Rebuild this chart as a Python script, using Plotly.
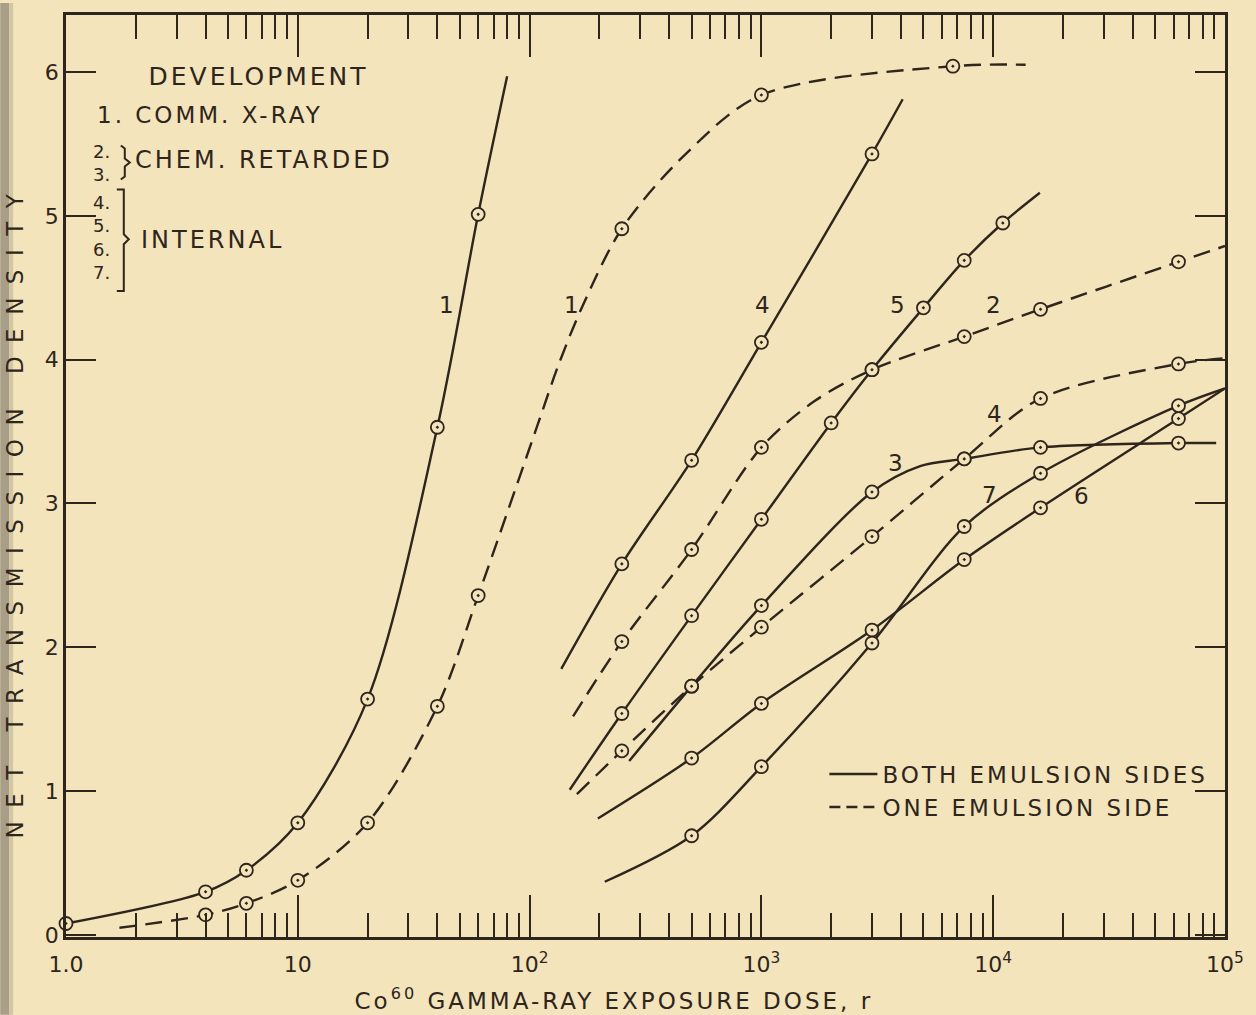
import numpy as np
import plotly.graph_objects as go

BG = "#F3E4BB"
INK = "#2E251C"
FONT = "DejaVu Sans"

# ---------------- data (dose in r, net transmission density) ----------------
# 1 - Comm. X-ray, both emulsion sides (solid)
C1S_LX = [1.0, 4, 6, 10, 20, 40, 60, 80]
C1S_LY = [0.08, 0.30, 0.45, 0.78, 1.64, 3.53, 5.01, 5.97]
C1S_PX = [1.0, 4, 6, 10, 20, 40, 60]
C1S_PY = [0.08, 0.30, 0.45, 0.78, 1.64, 3.53, 5.01]
# 1 - Comm. X-ray, one emulsion side (dashed)
C1D_LX = [1.7, 4, 6, 10, 20, 40, 60, 109, 133, 170, 250, 465, 1000, 6700, 13800]
C1D_LY = [0.05, 0.14, 0.22, 0.38, 0.78, 1.59, 2.36, 3.56, 3.96, 4.38, 4.91, 5.42, 5.84, 6.04, 6.05]
C1D_PX = [4, 6, 10, 20, 40, 60, 250, 1000, 6700]
C1D_PY = [0.14, 0.22, 0.38, 0.78, 1.59, 2.36, 4.91, 5.84, 6.04]
# 4 - Internal, both sides (solid)
C4S_LX = [137, 250, 500, 1000, 3000, 4070]
C4S_LY = [1.85, 2.58, 3.30, 4.12, 5.43, 5.81]
C4S_PX = [250, 500, 1000, 3000]
C4S_PY = [2.58, 3.30, 4.12, 5.43]
# 5 - Internal, both sides (solid)
C5S_LX = [149, 250, 500, 1000, 2000, 3000, 5000, 7500, 11000, 15900]
C5S_LY = [1.01, 1.54, 2.22, 2.89, 3.56, 3.93, 4.36, 4.69, 4.95, 5.16]
C5S_PX = [250, 500, 1000, 2000, 3000, 5000, 7500, 11000]
C5S_PY = [1.54, 2.22, 2.89, 3.56, 3.93, 4.36, 4.69, 4.95]
# 2 - Chem. retarded, one side (dashed)
C2D_LX = [154, 250, 500, 1000, 1690, 3000, 7500, 16000, 63000, 100000]
C2D_LY = [1.52, 2.04, 2.68, 3.39, 3.71, 3.93, 4.16, 4.35, 4.68, 4.79]
C2D_PX = [250, 500, 1000, 3000, 7500, 16000, 63000]
C2D_PY = [2.04, 2.68, 3.39, 3.93, 4.16, 4.35, 4.68]
# 3 - Chem. retarded, both sides (solid)
C3S_LX = [269, 500, 1000, 3000, 4840, 7500, 16000, 63000, 91600]
C3S_LY = [1.21, 1.73, 2.29, 3.08, 3.26, 3.31, 3.39, 3.42, 3.42]
C3S_PX = [500, 1000, 3000, 7500, 16000, 63000]
C3S_PY = [1.73, 2.29, 3.08, 3.31, 3.39, 3.42]
# 4 - Internal, one side (dashed)
C4D_LX = [160, 250, 500, 1000, 3000, 7500, 16000, 63000, 100000]
C4D_LY = [0.98, 1.28, 1.73, 2.14, 2.77, 3.31, 3.73, 3.97, 4.01]
C4D_PX = [250, 500, 1000, 3000, 7500, 16000, 63000]
C4D_PY = [1.28, 1.73, 2.14, 2.77, 3.31, 3.73, 3.97]
# 6 - Internal, both sides (solid)
C6S_LX = [197, 500, 1000, 3000, 7500, 16000, 63000, 100000]
C6S_LY = [0.81, 1.23, 1.61, 2.12, 2.61, 2.97, 3.59, 3.80]
C6S_PX = [500, 1000, 3000, 7500, 16000, 63000]
C6S_PY = [1.23, 1.61, 2.12, 2.61, 2.97, 3.59]
# 7 - Internal, both sides (solid)
C7S_LX = [211, 500, 1000, 3000, 7500, 16000, 63000, 100000]
C7S_LY = [0.37, 0.69, 1.17, 2.03, 2.84, 3.21, 3.68, 3.80]
C7S_PX = [500, 1000, 3000, 7500, 16000, 63000]
C7S_PY = [0.69, 1.17, 2.03, 2.84, 3.21, 3.68]

# curve labels
LABEL_TEXT = ["1", "1", "4", "5", "2", "4", "3", "7", "6"]
LABEL_DOSE = [44, 152, 1010, 3850, 10050, 10140, 3770, 9660, 24000]
LABEL_DENS = [4.38, 4.38, 4.38, 4.38, 4.38, 3.62, 3.28, 3.06, 3.05]

# axis ticks
X_TICKVALS = [1, 10, 100, 1000, 10000, 100000]
X_TICKTEXT = ["1.0", "10", "10<sup>2</sup>", "10<sup>3</sup>", "10<sup>4</sup>", "10<sup>5</sup>"]
Y_TICKVALS = [0, 1, 2, 3, 4, 5, 6]
Y_TICKTEXT = ["0", "1", "2", "3", "4", "5", "6"]

LEGEND_NAMES = ["BOTH EMULSION SIDES", "ONE EMULSION SIDE"]

curves = [
    (C1S_LX, C1S_LY, C1S_PX, C1S_PY, False),
    (C1D_LX, C1D_LY, C1D_PX, C1D_PY, True),
    (C4S_LX, C4S_LY, C4S_PX, C4S_PY, False),
    (C5S_LX, C5S_LY, C5S_PX, C5S_PY, False),
    (C2D_LX, C2D_LY, C2D_PX, C2D_PY, True),
    (C3S_LX, C3S_LY, C3S_PX, C3S_PY, False),
    (C4D_LX, C4D_LY, C4D_PX, C4D_PY, True),
    (C6S_LX, C6S_LY, C6S_PX, C6S_PY, False),
    (C7S_LX, C7S_LY, C7S_PX, C7S_PY, False),
]

fig = go.Figure()

for lx, ly, px, py, dashed in curves:
    fig.add_trace(go.Scatter(
        x=lx, y=ly, mode="lines", showlegend=False, hoverinfo="skip",
        line=dict(color=INK, width=2.4, shape="spline", smoothing=0.9,
                  dash="17px,9px" if dashed else "solid")))

for lx, ly, px, py, dashed in curves:
    fig.add_trace(go.Scatter(
        x=px, y=py, mode="markers", showlegend=False, cliponaxis=False,
        marker=dict(symbol="circle-dot", size=13, color=BG,
                    line=dict(color=INK, width=1.8))))

# legend entries
fig.add_trace(go.Scatter(x=[None], y=[None], mode="lines", name=LEGEND_NAMES[0],
                         line=dict(color=INK, width=2.4)))
fig.add_trace(go.Scatter(x=[None], y=[None], mode="lines", name=LEGEND_NAMES[1],
                         line=dict(color=INK, width=2.4, dash="11px,6px")))

# ---------------- layout ----------------
L, R, T, B = 66, 27, 12, 78
W, H = 1256, 1015
PW, PH = W - L - R, H - T - B


def paper(px, py):
    return (px - L) / PW, (T + PH - py) / PH


minor_vals = [m * 10 ** d for d in range(5) for m in range(2, 10)]

fig.update_layout(
    width=W, height=H,
    margin=dict(l=L, r=R, t=T, b=B),
    paper_bgcolor=BG, plot_bgcolor=BG,
    font=dict(family=FONT, color=INK, size=22),
    legend=dict(x=paper(827, 0)[0], y=paper(0, 752)[1], xanchor="left", yanchor="top",
                bgcolor="rgba(0,0,0,0)", font=dict(size=23, family=FONT, color=INK),
                itemwidth=48, tracegroupgap=0),
    xaxis=dict(type="log", range=[0, 5], tickvals=X_TICKVALS, ticktext=X_TICKTEXT,
               ticks="inside", ticklen=42, tickwidth=2, tickcolor=INK,
               showline=True, linewidth=2.5, linecolor=INK, mirror="ticks",
               showgrid=False, zeroline=False, tickfont=dict(size=22),
               ticklabelstandoff=6,
               minor=dict(tickvals=minor_vals, ticks="inside", ticklen=24,
                          tickwidth=2, tickcolor=INK, showgrid=False)),
    yaxis=dict(range=[-0.014, 6.396], tickvals=Y_TICKVALS, ticktext=Y_TICKTEXT,
               ticks="inside", ticklen=30, tickwidth=2, tickcolor=INK,
               showline=True, linewidth=2.5, linecolor=INK, mirror="ticks",
               showgrid=False, zeroline=False, tickfont=dict(size=22)),
)

ann = []
# curve labels
for t, xd, yd in zip(LABEL_TEXT, LABEL_DOSE, LABEL_DENS):
    ann.append(dict(x=np.log10(xd), y=yd, xref="x", yref="y", text=t, showarrow=False,
                    font=dict(size=23)))


def ptext(text, cx, cy, size, angle=0):
    x, y = paper(cx, cy)
    ann.append(dict(x=x, y=y, xref="paper", yref="paper", text=text, showarrow=False,
                    xanchor="center", yanchor="middle", textangle=angle,
                    font=dict(size=size)))


ptext("DEVELOPMENT", 260, 74, 25)
ptext("1. COMM. X-RAY", 211, 112, 23)
ptext("2.<br>3.", 102, 160, 18)
ptext("CHEM. RETARDED", 265, 157, 24)
ptext("4.<br>5.<br>6.<br>7.", 102, 235, 18)
ptext("INTERNAL", 214, 238, 24)
ptext("Co<sup>60</sup> GAMMA-RAY EXPOSURE DOSE, r", 616, 999, 23)
ptext("NET TRANSMISSION DENSITY", 15, 508, 23, -90)
fig.update_layout(annotations=ann)


def ppath(points):
    parts = []
    for i, (px, py) in enumerate(points):
        x, y = paper(px, py)
        parts.append(("M" if i == 0 else "L") + f"{x:.5f},{y:.5f}")
    return " ".join(parts)


shapes = [
    # scan binding shadow at far left
    dict(type="rect", xref="paper", yref="paper",
         x0=paper(0, 0)[0], x1=paper(9, 0)[0], y0=paper(0, H)[1], y1=paper(0, 0)[1],
         fillcolor="#A99F88", line=dict(width=0), layer="below"),
    dict(type="rect", xref="paper", yref="paper",
         x0=paper(9, 0)[0], x1=paper(13, 0)[0], y0=paper(0, H)[1], y1=paper(0, 0)[1],
         fillcolor="#D3C6A3", line=dict(width=0), layer="below"),
    # brace for 2./3.
    dict(type="path", xref="paper", yref="paper",
         path=ppath([(121, 143), (125, 146), (125, 156), (130, 160), (125, 164),
                     (125, 174), (121, 177)]),
         line=dict(color=INK, width=2)),
    # bracket for 4.-7.
    dict(type="path", xref="paper", yref="paper",
         path=ppath([(117, 187), (124, 187), (124, 232), (129, 237), (124, 242),
                     (124, 289), (117, 289)]),
         line=dict(color=INK, width=2)),
]
fig.update_layout(shapes=shapes)

post = """
document.body.style.margin = '0';
document.body.style.overflow = 'hidden';
var gd = document.getElementById('{plot_id}');
function spacing(){
  gd.querySelectorAll('.legend .scrollbox').forEach(function(e){ e.removeAttribute('clip-path'); });
  gd.querySelectorAll('text').forEach(function(t){
    var s = t.textContent;
    if (s === 'NET TRANSMISSION DENSITY') { t.style.letterSpacing = '13.5px'; }
    else if (s.length > 4 && /[A-Z]/.test(s)) { t.style.letterSpacing = '3px'; }
  });
}
spacing();
gd.on('plotly_afterplot', spacing);
"""

fig.write_html("out.html", post_script=post, config={"displayModeBar": False})
